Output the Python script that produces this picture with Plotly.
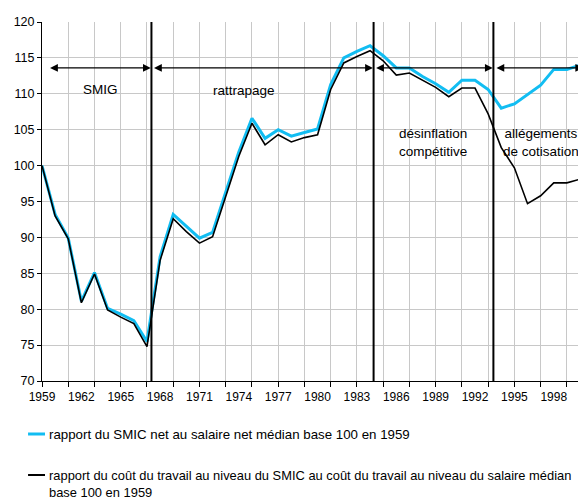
import plotly.graph_objects as go

# ---- data ----
years = list(range(1959, 2001))
smic_net_ratio = [100.0, 93.2, 89.9, 81.1, 85.1, 80.1, 79.3, 78.4, 75.5, 87.3,
                  93.2, 91.5, 89.9, 90.7, 96.3, 101.9, 106.6, 103.8, 105.0, 104.1,
                  104.6, 105.1, 111.3, 115.0, 115.9, 116.7, 115.3, 113.6, 113.6, 112.4,
                  111.4, 110.2, 111.9, 111.9, 110.6, 108.0, 108.6, 109.9, 111.2, 113.4,
                  113.4, 114.0]
labour_cost_ratio = [100.0, 93.0, 89.8, 80.9, 84.9, 79.9, 78.9, 78.0, 74.8, 86.8,
                     92.6, 90.8, 89.2, 90.1, 95.7, 101.3, 105.9, 102.9, 104.3, 103.3,
                     103.9, 104.3, 110.6, 114.3, 115.2, 116.0, 114.6, 112.6, 112.9, 111.9,
                     110.9, 109.6, 110.8, 110.8, 107.2, 102.5, 99.7, 94.7, 95.8, 97.6,
                     97.6, 98.1]
series_names = [
    "rapport du SMIC net au salaire net médian base 100 en 1959",
    "rapport du coût du travail au niveau du SMIC au coût du travail au niveau du salaire médian<br>base 100 en 1959",
]
y_ticks = [70, 75, 80, 85, 90, 95, 100, 105, 110, 115, 120]
x_label_years = list(range(1959, 2000, 3))
period_bounds = [1967.34, 1984.27, 1993.4]
period_spans = [(1959.5, 1967.29), (1967.42, 1984.22), (1984.35, 1993.35), (1993.52, 2000.24)]
period_labels = ["SMIG", "rattrapage", "désinflation<br>compétitive", "allégements<br>de cotisation"]

# ---- style ----
FONT = "Liberation Sans, Arial, sans-serif"
BLUE = "#12bdf2"
GRID = "#c8c8c8"
label_pos = [(1963.49, 110.55), (1974.36, 110.45), (1988.8, 103.2), (1997.0, 103.2)]
arrow_y = 113.6

fig = go.Figure()
fig.add_trace(go.Scatter(x=years, y=smic_net_ratio, mode="lines",
                         line=dict(color=BLUE, width=3), name=series_names[0],
                         showlegend=False))
fig.add_trace(go.Scatter(x=years, y=labour_cost_ratio, mode="lines",
                         line=dict(color="black", width=1.6), name=series_names[1],
                         showlegend=False))
# invisible trace for the label axis
fig.add_trace(go.Scatter(x=[1959, 2000], y=[70, 70], xaxis="x2", mode="markers",
                         marker=dict(opacity=0), hoverinfo="skip", showlegend=False))

# the page body adds an 8px margin: the figure is shrunk by 8px and margins shifted
fig.update_layout(
    width=578, height=492,
    margin=dict(l=32, r=6, t=14, b=119),
    paper_bgcolor="white", plot_bgcolor="white",
    font=dict(family=FONT, size=13, color="black"),
    xaxis=dict(range=[1959, 2000], tickmode="array",
               tickvals=list(range(1959, 2000, 2)), showticklabels=False,
               ticks="outside", ticklen=5, tickcolor="black",
               showgrid=True, gridcolor=GRID, gridwidth=1,
               showline=True, linecolor="black", linewidth=1, zeroline=False),
    xaxis2=dict(range=[1959, 2000], overlaying="x", anchor="y", side="bottom",
                tickmode="array", tickvals=x_label_years,
                ticktext=[str(v) for v in x_label_years],
                ticks="", showgrid=False, showline=False, zeroline=False,
                tickfont=dict(family=FONT, size=12), ticklabelstandoff=7),
    yaxis=dict(range=[70, 120], tickmode="array", tickvals=y_ticks,
               ticks="outside", ticklen=4, tickcolor="black",
               showgrid=True, gridcolor=GRID, gridwidth=1,
               showline=True, linecolor="black", linewidth=1, zeroline=False,
               tickfont=dict(family=FONT, size=12.5)),
)

# right border
fig.add_shape(type="line", xref="x", yref="y", x0=2000, x1=2000, y0=70, y1=120,
              line=dict(color=GRID, width=1), layer="below")

# period separators
for xb in period_bounds:
    fig.add_shape(type="line", xref="x", yref="y", x0=xb, x1=xb, y0=70, y1=120,
                  line=dict(color="black", width=2))

# double-headed arrows
for (xs, xe) in period_spans:
    fig.add_annotation(x=xe, y=arrow_y, ax=xs, ay=arrow_y, xref="x", yref="y",
                       axref="x", ayref="y", text="", showarrow=True,
                       arrowside="end+start", arrowhead=2, startarrowhead=2,
                       arrowsize=1.3, startarrowsize=1.3, arrowwidth=1.2,
                       arrowcolor="black")

# period labels
for txt, (lx, ly) in zip(period_labels, label_pos):
    fig.add_annotation(x=lx, y=ly, xref="x", yref="y", text=txt, showarrow=False,
                       font=dict(family=FONT, size=13.5, color="black"),
                       xanchor="center", yanchor="middle", align="center")

# manual legend (screen px -> paper coords, plot area spans x 40..580, y 22..381)
plot_h = 359.0
def py(p):
    return (381.0 - p) / plot_h
def px(p):
    return (p - 40.0) / 540.0

legend_rows = [(434, BLUE, 3), (475, "black", 2)]
for (yy, col, w) in legend_rows:
    fig.add_shape(type="line", xref="paper", yref="paper",
                  x0=px(26), x1=px(43), y0=py(yy), y1=py(yy),
                  line=dict(color=col, width=w))
fig.add_annotation(x=px(45), y=py(434), xref="paper", yref="paper",
                   text=series_names[0], showarrow=False, xanchor="left",
                   yanchor="middle", font=dict(family=FONT, size=13.3))
fig.add_annotation(x=px(45), y=py(466), xref="paper", yref="paper",
                   text=series_names[1], showarrow=False, xanchor="left",
                   yanchor="top", align="left", font=dict(family=FONT, size=12.9))

fig.write_html("out.html")
